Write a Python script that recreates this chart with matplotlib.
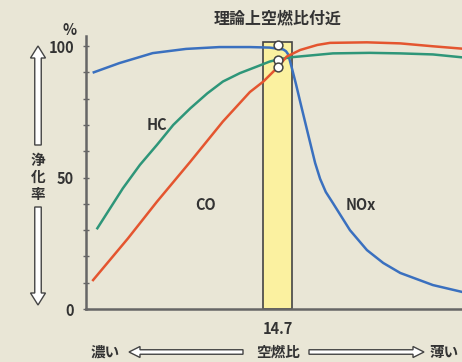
import matplotlib
matplotlib.use("Agg")
import matplotlib.pyplot as plt
from matplotlib.patches import FancyArrow
from matplotlib.transforms import IdentityTransform

plt.rcParams['font.family'] = ['Noto Sans CJK JP', 'DejaVu Sans']

# ---- data (air-fuel ratio vs. purification rate %) ----
nox_x = [12.11, 12.47, 12.94, 13.41, 13.88, 14.31, 14.59, 14.78, 14.82, 14.85, 14.90,
         14.96, 15.02, 15.13, 15.23, 15.30, 15.38, 15.48, 15.72, 15.96, 16.19, 16.43,
         16.89, 17.30]
nox_y = [90, 93.5, 97.3, 98.9, 99.6, 99.6, 99.4, 98.7, 98.0, 96.8, 91.8,
         85.5, 78.7, 66.5, 55.5, 49.5, 44.5, 40.3, 30, 22.4, 17.5, 13.7,
         9.1, 6.5]

hc_x = [12.16, 12.52, 12.76, 13.00, 13.23, 13.47, 13.71, 13.93, 14.17, 14.41,
        14.59, 14.71, 14.88, 15.16, 15.48, 16.00, 16.43, 16.89, 17.30]
hc_y = [30.7, 45.9, 54.8, 62.4, 70, 76.3, 82, 86.5, 89.7, 92.2,
        94.1, 94.9, 95.7, 96.4, 97.2, 97.4, 97.2, 96.8, 95.7]

co_x = [12.10, 12.59, 13.00, 13.47, 13.93, 14.31, 14.50, 14.69, 14.83, 15.02,
        15.26, 15.44, 15.96, 16.43, 16.89, 17.30]
co_y = [11, 26.8, 40.8, 56, 71.3, 82.5, 86.5, 91.6, 96, 98.5,
        100.4, 101.2, 101.4, 101, 99.9, 99]

stoich = 14.7
marker_y = [100.2, 94.7, 91.9]
y_ticks = [0, 50, 100]
y_minor = [10, 20, 30, 40, 60, 70, 80, 90]

bg = '#e9e6d6'
txt = '#333333'
fig = plt.figure(figsize=(4.62, 3.62), dpi=100, facecolor=bg)
ax = fig.add_axes([86/462, 53/362, 376/462, 273.5/362], facecolor=bg)

ax.bar([stoich], [101.6], width=0.41, color='#fbf1a0', edgecolor='#444444',
       linewidth=1.2, zorder=1)
ax.plot(nox_x, nox_y, color='#3a70bf', lw=1.8, zorder=3)
ax.plot(hc_x, hc_y, color='#2e9679', lw=1.8, zorder=3)
ax.plot(co_x, co_y, color='#e4552f', lw=1.8, zorder=3)
ax.scatter([stoich]*3, marker_y, s=40, facecolor='white', edgecolor='#444444',
           linewidth=1.1, zorder=4)

ax.set_xlim(12.0, 17.3)
ax.set_ylim(0, 104)
for s in ['top', 'right']:
    ax.spines[s].set_visible(False)
for s in ['left', 'bottom']:
    ax.spines[s].set_color('#666666')
    ax.spines[s].set_linewidth(1.8)
ax.set_yticks(y_ticks)
ax.set_yticks(y_minor, minor=True)
ax.set_yticklabels([str(v) for v in y_ticks], fontsize=10.5, fontweight='bold', color=txt)
ax.tick_params(axis='y', which='both', direction='inout', length=5, width=1,
               color='#666666', pad=6)
ax.set_xticks([stoich])
ax.set_xticklabels(['14.7'], fontsize=10.5, fontweight='bold', color=txt)
ax.tick_params(axis='x', length=0, pad=9)

ax.text(13.0, 70, 'HC', fontsize=10.5, fontweight='bold', color=txt, ha='center', va='center')
ax.text(13.69, 39.5, 'CO', fontsize=10.5, fontweight='bold', color=txt, ha='center', va='center')
ax.text(15.88, 39.5, 'NOx', fontsize=10.5, fontweight='bold', color=txt, ha='center', va='center')

H = 362
def fy(py):
    return 1 - py / H

fig.text(278/462, fy(18), '理論上空燃比付近', fontsize=11.5, fontweight='bold',
         color=txt, ha='center', va='center')
fig.text(70/462, fy(30), '%', fontsize=10.5, fontweight='bold', color=txt,
         ha='center', va='center')
fig.text(38/462, fy(177), '浄\n化\n率', fontsize=10.5, fontweight='bold', color=txt,
         ha='center', va='center', linespacing=1.05)
fig.text(105/462, fy(352), '濃い', fontsize=10.5, fontweight='bold', color=txt,
         ha='center', va='center')
fig.text(278/462, fy(352), '空燃比', fontsize=10.5, fontweight='bold', color=txt,
         ha='center', va='center')
fig.text(444/462, fy(352), '薄い', fontsize=10.5, fontweight='bold', color=txt,
         ha='center', va='center')

def arrow(x0, y0, x1, y1, w, hw, hl):
    # coords in image pixels (origin top-left)
    a = FancyArrow(x0, H - y0, x1 - x0, -(y1 - y0), width=w, head_width=hw,
                   head_length=hl, length_includes_head=True,
                   facecolor='white', edgecolor='#444444', linewidth=1.0,
                   transform=IdentityTransform())
    fig.add_artist(a)

arrow(38, 145, 38, 46, 6.5, 15, 12)
arrow(38, 207, 38, 305, 6.5, 15, 12)
arrow(243, 352, 129, 352, 4.5, 11, 11)
arrow(309, 352, 424, 352, 4.5, 11, 11)

fig.savefig('out.png', dpi=100, facecolor=bg)
